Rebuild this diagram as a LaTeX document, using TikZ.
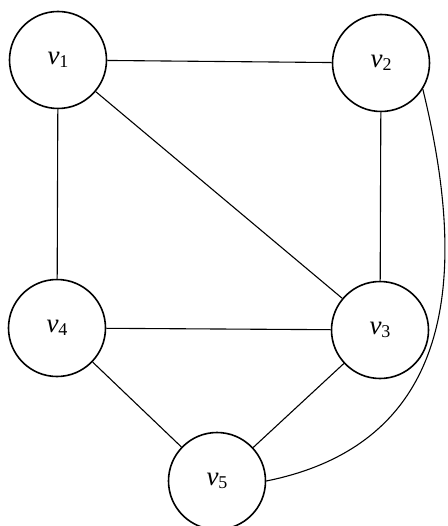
\documentclass[tikz,border=0pt]{standalone}
\usepackage{fontspec}
\setmainfont{Liberation Serif}
\newcommand{\vlab}[1]{{\fontsize{27}{27}\selectfont\itshape v}\raisebox{-0.28em}{\fontsize{18}{18}\selectfont #1}}
\begin{document}
\begin{tikzpicture}[x=1pt,y=-1pt,
  vnode/.style={circle,draw,line width=1.6pt,minimum size=97pt,inner sep=0pt},
  edge/.style={line width=1.1pt}]
\useasboundingbox (0,0) rectangle (447,526);
\node[vnode] (v1) at (58,60) {\vlab{1}};
\node[vnode] (v2) at (381,63) {\vlab{2}};
\node[vnode] (v3) at (380,330) {\vlab{3}};
\node[vnode] (v4) at (57,328) {\vlab{4}};
\node[vnode] (v5) at (217,481) {\vlab{5}};
\draw[edge] (v1) -- (v2);
\draw[edge] (v1) -- (v4);
\draw[edge] (v1) -- (v3);
\draw[edge] (v2) -- (v3);
\draw[edge] (v4) -- (v3);
\draw[edge] (v4) -- (v5);
\draw[edge] (v3) -- (v5);
\draw[edge] (v2.-32) .. controls (462,250) and (470,440) .. (v5.east);
\end{tikzpicture}
\end{document}
